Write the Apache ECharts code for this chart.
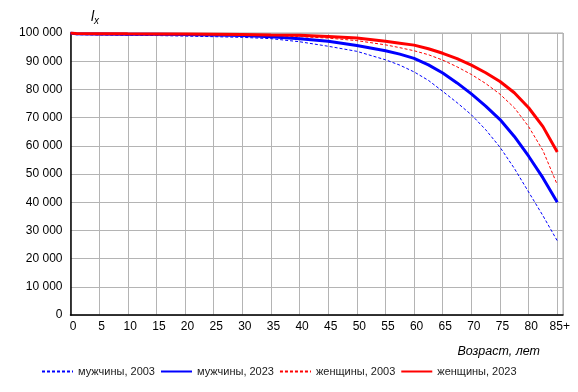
<!DOCTYPE html>
<html>
<head>
<meta charset="utf-8">
<script src="https://cdn.jsdelivr.net/npm/echarts@6/dist/echarts.min.js"></script>
<style>html,body{margin:0;padding:0;background:#fff}#c{width:578px;height:392px}</style>
</head>
<body>
<div id="c"></div>
<script>
var ages      = [0,1,5,10,15,20,25,30,35,40,45,50,55,57.5,60,62.5,65,67.5,70,72.5,75,77.5,80,82.5,85];
var men2003   = [100000,99400,99300,99200,99100,98900,98700,98450,98000,96900,95300,93500,90500,88600,86200,83200,79300,75300,71000,65700,59500,52000,43600,35200,26300];
var men2023   = [100000,99700,99650,99600,99550,99450,99300,99100,98700,98000,97100,95600,93700,92500,91000,88700,85800,82300,78400,74100,69300,63300,56300,48600,40000];
var women2003 = [100000,99600,99550,99500,99450,99350,99250,99100,98950,98700,98200,97300,95800,94800,93700,92300,90400,88000,85300,82100,78300,73500,66800,58300,46200];
var women2023 = [100000,99800,99750,99700,99680,99620,99550,99450,99300,99200,98800,98200,97100,96400,95700,94400,92800,90900,88600,85900,82800,78800,73500,66800,57800];
var seriesNames = ['мужчины, 2003','мужчины, 2023','женщины, 2003','женщины, 2023'];
var yTicks = [0,10000,20000,30000,40000,50000,60000,70000,80000,90000,100000];

function pairs(arr){ return ages.map(function(a,i){ return [a, arr[i]]; }); }
function fmt(v){ return String(v).replace(/\B(?=(\d{3})+(?!\d))/g,' '); }

var chart = echarts.init(document.getElementById('c'), null, {renderer:'canvas'});
var font = 'Liberation Sans, Arial, sans-serif';
chart.setOption({
  animation:false,
  backgroundColor:'#fff',
  grid:{left:70.5, right:15, top:33, bottom:77, show:true, borderColor:'#a6a6a6', borderWidth:1, containLabel:false},
  xAxis:{
    type:'value', min:0, max:86, interval:5,
    axisLine:{show:true, onZero:false, lineStyle:{color:'#000', width:1.5}},
    axisTick:{show:false},
    splitLine:{show:true, lineStyle:{color:'#b4b4b4', width:1}},
    axisLabel:{color:'#000', fontFamily:font, fontSize:12, margin:6, padding:[0,0,0,5], showMaxLabel:false,
      formatter:function(v){ if(v===85) return '85+'; if(v%5!==0) return ''; return String(v);} }
  },
  yAxis:{
    type:'value', min:yTicks[0], max:yTicks[yTicks.length-1], interval:10000,
    axisLine:{show:true, lineStyle:{color:'#000', width:1.5}},
    axisTick:{show:false},
    splitLine:{show:true, lineStyle:{color:'#b4b4b4', width:1}},
    axisLabel:{color:'#000', fontFamily:font, fontSize:12, margin:8, formatter:fmt}
  },
  legend:{
    left:36, top:361, width:540, itemWidth:31, itemHeight:10, itemGap:5,
    itemStyle:{opacity:0, borderWidth:0},
    textStyle:{color:'#1a1a1a', fontFamily:font, fontSize:11},
    data:seriesNames
  },
  graphic:[
    {type:'text', left:91, top:10, style:{text:'{l|l}{x|x}', rich:{
      l:{fontFamily:font, fontStyle:'italic', fontSize:14, fill:'#000', verticalAlign:'top'},
      x:{fontFamily:font, fontStyle:'italic', fontSize:10, fill:'#000', padding:[6,0,0,0]}
    }}},
    {type:'text', right:38, top:345, style:{text:'Возраст, лет', fontFamily:font, fontStyle:'italic', fontSize:12.5, fill:'#000'}}
  ],
  series:[
    {name:seriesNames[0], type:'line', data:pairs(men2003), symbol:'none', color:'#0000ff', lineStyle:{width:1, type:[3,2], color:'#0000ff'}, z:2},
    {name:seriesNames[1], type:'line', data:pairs(men2023), symbol:'none', color:'#0000ff', lineStyle:{width:3, color:'#0000ff'}, z:3},
    {name:seriesNames[2], type:'line', data:pairs(women2003), symbol:'none', color:'#ff0000', lineStyle:{width:1, type:[3,2], color:'#ff0000'}, z:2},
    {name:seriesNames[3], type:'line', data:pairs(women2023), symbol:'none', color:'#ff0000', lineStyle:{width:3, color:'#ff0000'}, z:4}
  ]
});
</script>
</body>
</html>
